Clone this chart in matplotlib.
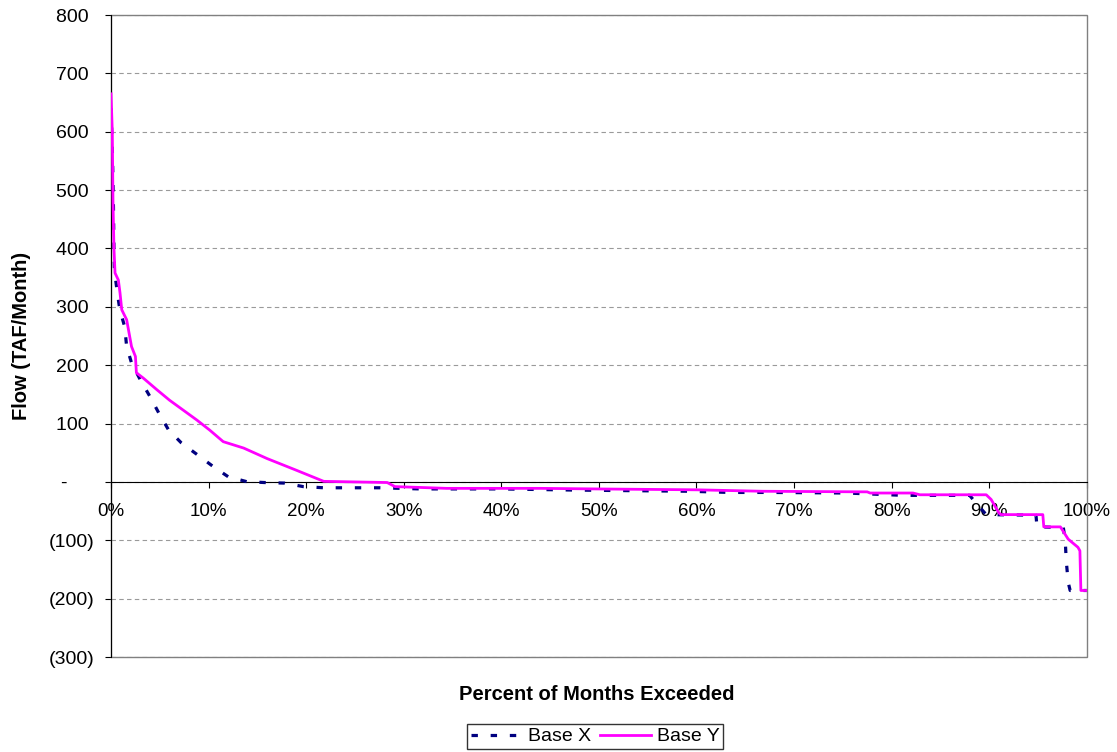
import matplotlib

matplotlib.use("Agg")
import matplotlib.pyplot as plt
from matplotlib.patches import Rectangle
from matplotlib.ticker import FuncFormatter, MultipleLocator

plt.rcParams["font.family"] = ["Liberation Sans", "DejaVu Sans"]
plt.rcParams["font.size"] = 14

# exceedance curves (percent of months, TAF/month)
base_x_pct = [0.0, 0.15, 0.25, 0.3, 0.35, 0.6, 0.9, 1.4, 1.6, 2.1, 3.0, 4.0,
              4.9, 5.9, 7.2, 8.9, 10.5, 12.0, 13.9, 15.7, 17.8, 19.7, 21.8,
              27.6, 29.6, 31.7, 39.9, 47.7, 59.3, 63.4, 67.5, 75.4, 81.2,
              88.0, 88.7, 89.7, 94.8, 94.9, 97.6, 97.8, 97.9, 98.1, 98.3, 100.0]
base_x_flow = [640, 560, 470, 400, 362, 330, 295, 266, 232, 204, 175, 146,
               118, 89, 67, 46, 26, 9, 0.5, -1, -2, -8, -10,
               -10, -11, -12, -12, -14, -16, -18, -18, -19, -23,
               -23, -37, -56, -57, -77, -78, -101, -135, -172, -186, -186]

base_y_pct = [0.0, 0.13, 0.2, 0.3, 0.41, 0.75, 0.92, 1.1, 1.6, 2.1, 2.5, 2.6,
              3.3, 4.7, 6.0, 7.4, 8.8, 10.1, 11.5, 13.6, 16.0, 19.0, 21.8,
              28.3, 29.1, 34.4, 44.0, 49.8, 60.0, 66.8, 77.5, 77.8, 82.2,
              82.9, 89.7, 90.2, 91.0, 91.2, 95.5, 95.6, 97.3, 98.1, 99.1,
              99.3, 99.4, 100.0]
base_y_flow = [665, 600, 480, 400, 358, 346, 324, 295, 278, 232, 215, 187,
               178, 158, 140, 123, 106, 89, 69, 58, 40, 20, 1,
               -1, -8, -11, -11, -12, -13.5, -16, -17, -19, -19,
               -22, -22, -30, -53, -56, -56, -77, -77, -98, -112,
               -118, -186, -186]

series_names = ["Base X", "Base Y"]
y_ticks = list(range(-300, 801, 100))


def flow_label(value, _pos):
    # accounting style: zero as a dash, negatives in brackets
    if value == 0:
        return "-     "
    if value < 0:
        return f"({abs(value):,.0f})"
    return f"{value:,.0f} "


fig = plt.figure(figsize=(11.17, 7.52), dpi=100)
ax = fig.add_axes([0.0994, 0.1263, 0.8735, 0.8537])

ax.plot(base_x_pct, base_x_flow, color="#000080", lw=2.3,
        linestyle=(0, (2, 4)), label=series_names[0], zorder=3)
ax.plot(base_y_pct, base_y_flow, color="#FF00FF", lw=2.0,
        label=series_names[1], zorder=4)

ax.set_xlim(0, 100)
ax.set_ylim(-300, 800)
ax.xaxis.set_major_locator(MultipleLocator(10))
ax.xaxis.set_major_formatter(FuncFormatter(lambda v, _p: f"{v:.0f}%"))
ax.set_yticks(y_ticks)
ax.yaxis.set_major_formatter(FuncFormatter(flow_label))

ax.yaxis.grid(True, linestyle=(0, (4, 3)), color="#9a9a9a", lw=0.8)
ax.set_axisbelow(True)

for side in ("top", "right"):
    ax.spines[side].set_visible(False)
ax.spines["bottom"].set_position(("data", 0))
ax.spines["bottom"].set_color("black")
ax.spines["left"].set_color("black")
ax.add_patch(Rectangle((0, 0), 1, 1, transform=ax.transAxes, fill=False,
                       edgecolor="#808080", lw=1, clip_on=False, zorder=1))

ax.tick_params(axis="x", direction="out", length=4, pad=11, colors="black",
               labelsize=13.5)
ax.tick_params(axis="y", direction="out", length=4, pad=8, colors="black")

fig.text(0.534, 1 - 700 / 752, "Percent of Months Exceeded",
         ha="center", va="baseline", fontweight="bold", fontsize=14.5)
fig.text(0.0194, 0.553, "Flow (TAF/Month)", rotation=90,
         ha="center", va="center", fontweight="bold", fontsize=14.5)

fig.legend(loc="center", bbox_to_anchor=(0.533, 0.0206), ncol=2,
           frameon=True, fancybox=False, edgecolor="black",
           handlelength=2.6, handletextpad=0.3, columnspacing=0.5,
           borderpad=0.2, borderaxespad=0)

fig.savefig("out.png", dpi=100)
